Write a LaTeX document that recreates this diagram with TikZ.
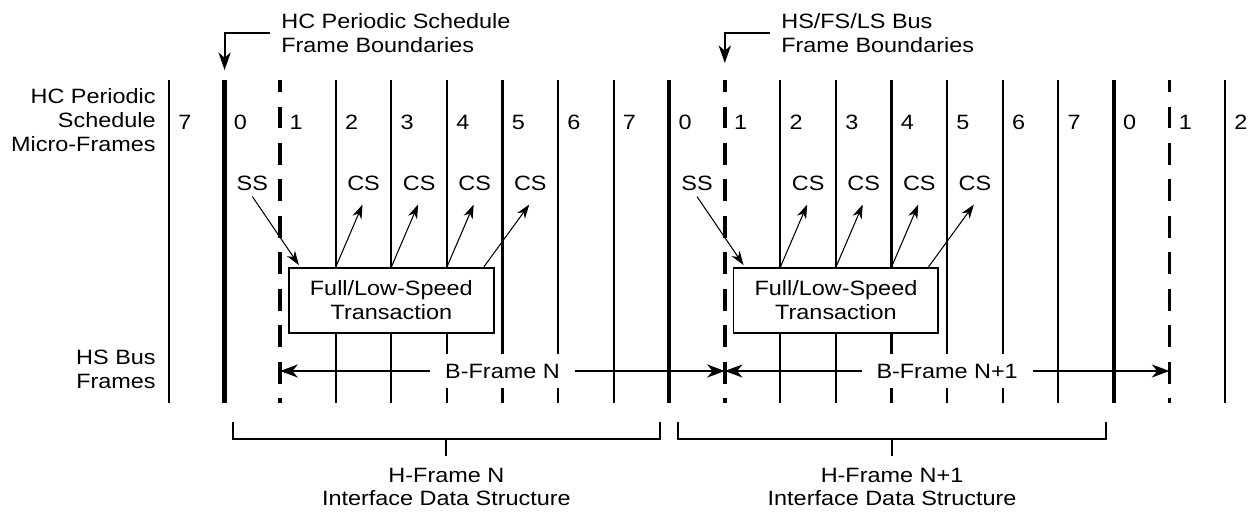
\documentclass[tikz,border=0pt]{standalone}
\usepackage{fontspec}
\setmainfont{Liberation Sans}[FakeStretch=1.13]
\usetikzlibrary{arrows.meta, calc}

\begin{document}
\begin{tikzpicture}[x=0.02cm, y=-0.02cm, font=\fontsize{11.8}{13.6}\selectfont]

% -------------------------------------------------------
% Layout parameters (units: pixels of the sketch)
% -------------------------------------------------------
\def\xz{169}      % first frame line
\def\dx{55.58}    % micro-frame width
\def\ytop{80}     % top of frame lines
\def\ybot{403}    % bottom of frame lines
\def\yarr{371}    % B-frame arrows

\tikzstyle{thinln} = [line width=1.2pt]
\tikzstyle{hcline} = [line width=2.4pt]
\tikzstyle{busline} = [line width=2pt, dash pattern=on 0.44cm off 0.29cm, dash phase=0.2cm]
\tikzstyle{arrow} = [line width=0.6pt, -{Stealth[length=8pt, width=5.5pt, inset=2.5pt]}]
\tikzstyle{farrow} = [line width=1.1pt, -{Stealth[length=10pt, width=7pt, inset=3pt]}]
\tikzstyle{bigarrow} = [line width=1.1pt, {Stealth[length=10pt, width=7.4pt, inset=3pt]}-{Stealth[length=10pt, width=7.4pt, inset=3pt]}]
\tikzstyle{txbox} = [draw, line width=1.1pt, fill=white, minimum width=4.1cm, minimum height=1.3cm, align=center, inner sep=0pt]
\tikzstyle{num} = [anchor=west, inner sep=0pt]
\tikzstyle{bflabel} = [midway, fill=white, inner xsep=0.3cm, inner ysep=0.19cm]
\tikzstyle{hflabel} = [align=center, inner xsep=0pt, inner ysep=0.22cm]

\useasboundingbox (0,0) rectangle (1249,512);

%%%%%% FRAME LINES
\foreach \i in {0,...,19}{
  \pgfmathsetmacro{\xx}{\xz+\dx*\i}
  \coordinate (top\i) at (\xx,\ytop);
  \coordinate (bot\i) at (\xx,\ybot);
  \coordinate (mid\i) at (\xx,\yarr);
}
\foreach \i in {0,3,4,5,6,7,8,11,12,13,14,15,16,19} \draw[thinln] (top\i) -- (bot\i);
\foreach \i in {1,9,17} \draw[hcline] (top\i) -- (bot\i);   % HC frame boundaries
\foreach \i in {2,10,18} \draw[busline] (top\i) -- (bot\i); % bus frame boundaries

% micro-frame numbers
\foreach \i [evaluate=\i as \m using {int(mod(\i+7,8))}] in {0,...,19}
  \node[num] (mf\i) at ($(top\i)+(9,42)$) {\m};

%%%%%% ROW LABELS
\node[anchor=east, align=right, inner sep=0pt] (mflbl) at (156,120) {HC Periodic\\Schedule\\Micro-Frames};
\node[anchor=east, align=right, inner sep=0pt] (hslbl) at (156,369) {HS Bus\\Frames};

%%%%%% BOUNDARY NOTES
\node[anchor=west, align=left, inner sep=0pt] (hcnote) at (281,33) {HC Periodic Schedule\\Frame Boundaries};
\node[anchor=west, align=left, inner sep=0pt] (hsnote) at (781,33) {HS/FS/LS Bus\\Frame Boundaries};
\coordinate (hctip) at ($(top1)+(0,-10)$);
\coordinate (hstip) at ($(top10)+(0,-17)$);
\draw[farrow, shorten <=0.22cm] (hcnote.west) -| (hctip);
\draw[farrow, shorten <=0.22cm] (hsnote.west) -| (hstip);

%%%%%% TRANSACTIONS
\node[txbox] (fls1) at ($(top4)+(0,220.5)$) {Full/Low-Speed\\Transaction};
\node[txbox] (fls2) at ($(top12)+(0,220.5)$) {Full/Low-Speed\\Transaction};

% start / complete splits
\node (ss1) at ($(top1)!0.5!(top2)+(0,103)$) {SS};
\node (ss2) at ($(top9)!0.5!(top10)+(0,103)$) {SS};
\foreach \c/\j in {3/a,4/b,5/c,6/d,11/e,12/f,13/g,14/h}{
  \pgfmathtruncatemacro{\n}{\c+1}
  \node (cs\j) at ($(top\c)!0.5!(top\n)+(0,103)$) {CS};
}

\draw[arrow] (ss1.south) -- ($(fls1.north west)+(11,-2)$);
\draw[arrow] (ss2.south) -- ($(fls2.north west)+(11,-2)$);
\draw[arrow] (fls1.north -| top3) -- ($(csa.south)+(-1,8)$);
\draw[arrow] (fls1.north -| top4) -- ($(csb.south)+(-1,8)$);
\draw[arrow] (fls1.north -| top5) -- ($(csc.south)+(-1,8)$);
\draw[arrow] ($(fls1.north east)+(-11,0)$) -- ($(csd.south)+(-1,8)$);
\draw[arrow] (fls2.north -| top11) -- ($(cse.south)+(-1,8)$);
\draw[arrow] (fls2.north -| top12) -- ($(csf.south)+(-1,8)$);
\draw[arrow] (fls2.north -| top13) -- ($(csg.south)+(-1,8)$);
\draw[arrow] ($(fls2.north east)+(-11,0)$) -- ($(csh.south)+(-1,8)$);

%%%%%% B-FRAMES
\draw[bigarrow] (mid2) -- (mid10) node[bflabel] (bfn) {B-Frame N};
\draw[bigarrow] (mid10) -- (mid18) node[bflabel] (bfn1) {B-Frame N+1};

%%%%%% H-FRAMES
\coordinate (hna) at ($(top1)+(8,342)$);
\coordinate (hnb) at ($(top9)+(-9,342)$);
\coordinate (hnc) at ($(top9)+(9,342)$);
\coordinate (hnd) at ($(top17)+(-8,342)$);
\node[hflabel] (hfn) at ($(hna)!0.5!(hnb)+(0,65)$) {H-Frame N\\Interface Data Structure};
\node[hflabel] (hfn1) at ($(hnc)!0.5!(hnd)+(0,65)$) {H-Frame N+1\\Interface Data Structure};
\draw[thinln] (hna) -- ++(0,17) -| (hnb);
\draw[thinln] (hnc) -- ++(0,17) -| (hnd);
\draw[thinln] ($(hna)!0.5!(hnb)+(0,17)$) -- (hfn.north);
\draw[thinln] ($(hnc)!0.5!(hnd)+(0,17)$) -- (hfn1.north);

\end{tikzpicture}
\end{document}
